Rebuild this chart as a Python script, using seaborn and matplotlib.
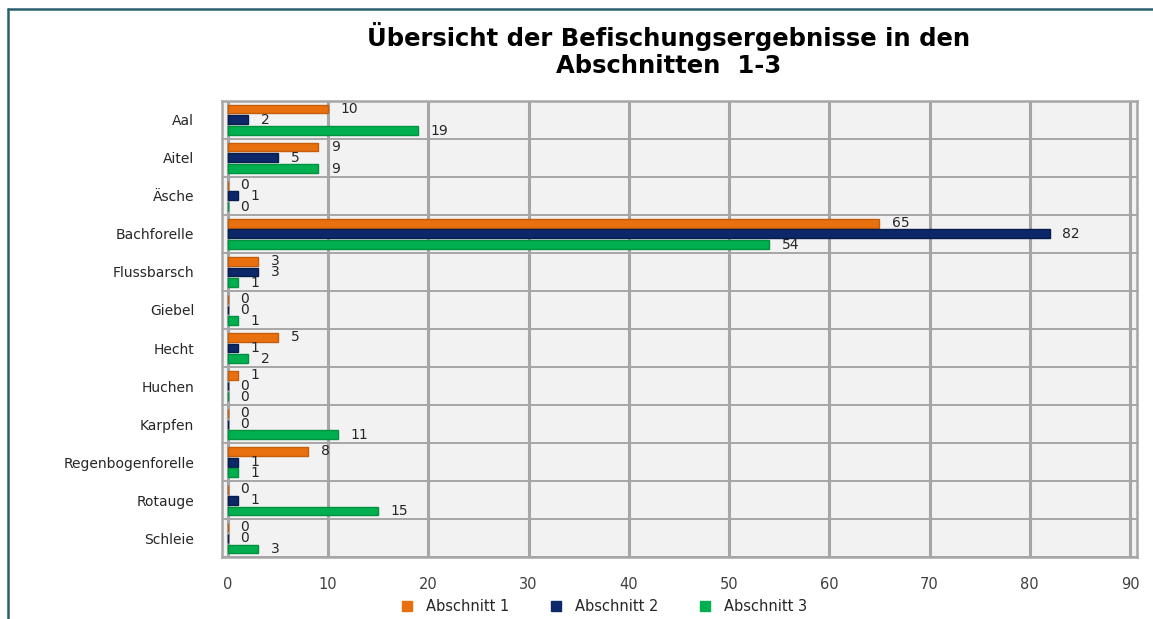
"""Befischungsergebnisse Abschnitte 1-3 - horizontal grouped bars."""
import numpy as np
import pandas as pd
import matplotlib
matplotlib.use('Agg')
import matplotlib.pyplot as plt
from matplotlib.lines import Line2D
import seaborn as sns

arten = ['Aal', 'Aitel', 'Äsche', 'Bachforelle', 'Flussbarsch', 'Giebel', 'Hecht',
         'Huchen', 'Karpfen', 'Regenbogenforelle', 'Rotauge', 'Schleie']
abschnitt_1 = [10, 9, 0, 65, 3, 0, 5, 1, 0, 8, 0, 0]
abschnitt_2 = [2, 5, 1, 82, 3, 0, 1, 0, 0, 1, 1, 0]
abschnitt_3 = [19, 9, 0, 54, 1, 1, 2, 0, 11, 1, 15, 3]
serien = ['Abschnitt 1', 'Abschnitt 2', 'Abschnitt 3']
farben = ['#e8700f', '#0c2868', '#00b050']
kanten = ['#c45e0c', '#081c4c', '#00913f']

df = pd.DataFrame({
    'Art': arten * 3,
    'Abschnitt': np.repeat(serien, len(arten)),
    'Anzahl': abschnitt_1 + abschnitt_2 + abschnitt_3,
})

sns.set_style('white')
plt.rcParams['font.family'] = ['DejaVu Sans']

fig = plt.figure(figsize=(11.53, 6.19), dpi=100)
ax = fig.add_axes([0.1925, 0.100, 0.7936, 0.737])
ax.set_facecolor('#f2f2f2')

sns.barplot(data=df, x='Anzahl', y='Art', hue='Abschnitt', order=arten,
            hue_order=serien, palette=farben, saturation=1, orient='h',
            width=0.86, gap=0.18, ax=ax, legend=False, zorder=3)

for cont, kante in zip(ax.containers, kanten):
    for bar in cont:
        bar.set_edgecolor(kante)
        bar.set_linewidth(1.0)
    ax.bar_label(cont, labels=[str(int(v)) for v in cont.datavalues], padding=9,
                 fontsize=10, color='#262626')

ax.set_xlim(-0.6, 90.7)
ax.set_ylim(len(arten) - 0.5, -0.5)
ax.set_xticks(np.arange(0, 91, 10))
ax.set_yticks(np.arange(len(arten)))
ax.set_yticks(np.arange(len(arten)) + 0.5, minor=True)
ax.grid(True, axis='x', color='#a6a6a6', linewidth=2.2, zorder=0)
ax.grid(True, axis='y', which='minor', color='#a6a6a6', linewidth=1.4, zorder=0)
ax.grid(False, axis='y', which='major')
ax.set_axisbelow(True)
ax.set_xlabel('')
ax.set_ylabel('')
ax.tick_params(axis='both', which='both', length=0)
ax.tick_params(axis='x', labelsize=10.5, labelcolor='#404040', pad=14)
ax.tick_params(axis='y', labelsize=10, labelcolor='#262626', pad=20)
for s in ax.spines.values():
    s.set_color('#a6a6a6')
    s.set_linewidth(1.8)

fig.suptitle('Übersicht der Befischungsergebnisse in den\nAbschnitten  1-3',
             x=0.58, y=0.965, fontsize=17.5, fontweight='bold', linespacing=1.2,
             color='black')

handles = [Line2D([0], [0], marker='s', linestyle='', markersize=7,
                  markerfacecolor=c, markeredgecolor=c) for c in farben]
fig.legend(handles, serien, loc='center', bbox_to_anchor=(0.52, 0.02), ncol=3,
           frameon=False, fontsize=10.5, handletextpad=0.3, columnspacing=2.2)

# Rahmen oben und links
fig.add_artist(Line2D([0.007, 1.0], [0.985, 0.985], color='#2a5f6e', linewidth=1.8))
fig.add_artist(Line2D([0.007, 0.007], [0.0, 0.985], color='#2a5f6e', linewidth=1.8))

fig.savefig('out.png', dpi=100)
plt.close()
